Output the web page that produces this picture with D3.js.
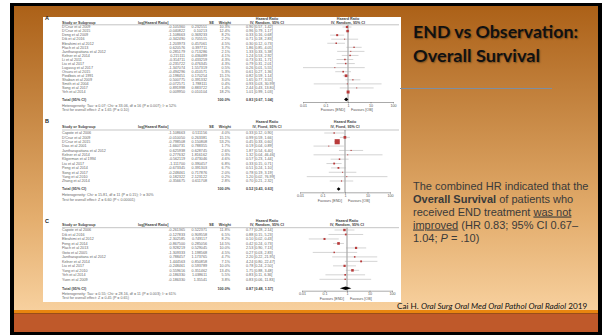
<!DOCTYPE html>
<html>
<head>
<meta charset="utf-8">
<script src="https://cdn.jsdelivr.net/npm/d3@7"></script>
<style>
  html, body { margin: 0; padding: 0; background: #fff; }
  svg { display: block; }
</style>
</head>
<body>
<svg id="slide" width="606" height="335"></svg>
<script>
// ---- Panel A: END vs observation, overall survival (IV, random) ----
const studiesA = ["D'Cruz et al 2009", "D'Cruz et al 2015", "Deng et al 2009", "Dik et al 2016",
  "Ebrahimi et al 2012", "Flach et al 2013", "Jantharapattana et al 2012", "Kelner et al 2014",
  "Li et al 2011", "Liu et al 2017", "Lugassy et al 2017", "Otsuru et al 2015", "Piedbois et al 1991",
  "Shaban et al 2009", "Smith et al 2004", "Song et al 2017", "Yeh et al 2014"];
const logHrA = ["-0.105360", "-0.040822", "-1.108663", "-0.342490", "-1.203973", "0.620576", "0.285179",
  "0.215111", "-0.314711", "-0.235722", "-1.347074", "-0.494296", "-0.198451", "0.500775", "-0.072571",
  "0.891998", "0.009950"];
const seA = ["0.232551", "0.10213", "0.369233", "0.705515", "0.457061", "0.397711", "0.713286", "0.436489",
  "0.433259", "0.476345", "1.557319", "0.410571", "0.170254", "0.391332", "1.788111", "0.883722", "0.010104"];
const weightA = [10.3, 12.4, 8.2, 2.2, 4.5, 3.7, 2.1, 4.1, 4.3, 4.3, 0.5, 5.3, 15.1, 3.0, 0.4, 1.4, 18.2];
const hrA = [0.90, 0.96, 0.33, 0.71, 0.30, 1.86, 1.33, 1.24, 0.73, 0.79, 0.26, 0.61, 0.82, 1.65, 0.93, 2.44, 1.01];
const loA = [0.57, 0.79, 0.16, 0.18, 0.12, 0.85, 0.33, 0.53, 0.31, 0.31, 0.01, 0.27, 0.59, 0.77, 0.03, 0.43, 0.99];
const hiA = [1.42, 1.17, 0.68, 2.83, 0.73, 4.05, 5.38, 2.92, 1.71, 2.01, 5.55, 1.36, 1.14, 3.55, 30.99, 13.80, 1.03];
const totalA = [0.83, 0.67, 1.04];
const hetA = "Heterogeneity: Tau\u00b2 = 0.07; Chi\u00b2 = 33.06, df = 16 (P = 0.007); I\u00b2 = 52%";
const testA = "Test for overall effect: Z = 1.65 (P = 0.10)";

// ---- Panel B: fixed-effect pooling ----
const studiesB = ["Capote et al 2006", "D'Cruz et al 2009", "D'Cruz et al 2015", "Dias et al 2001",
  "Jantharapattana et al 2012", "Kelner et al 2014", "Kligerman et al 1994", "Liu et al 2017",
  "Peng et al 2014", "Song et al 2017", "Yang et al 2010", "Zhang et al 2014"];
const logHrB = ["-1.108663", "-0.010050", "-0.798508", "-1.660731", "0.625938", "0.277632", "-0.562119",
  "-1.111700", "-0.673345", "-0.248461", "0.182322", "-0.356675"];
const seB = ["0.511156", "0.263381", "0.150808", "0.788355", "0.628745", "1.816162", "0.473046", "0.390457",
  "0.391303", "0.717876", "2.123122", "0.611708"];
const weightB = [4.0, 15.1, 53.2, 1.7, 2.6, 0.3, 4.6, 6.8, 6.7, 2.0, 0.2, 2.8];
const hrB = [0.33, 0.99, 0.45, 0.19, 1.87, 1.32, 0.57, 0.33, 0.51, 0.78, 1.20, 0.70];
const loB = [0.12, 0.59, 0.33, 0.04, 0.54, 0.04, 0.23, 0.15, 0.24, 0.19, 0.02, 0.21];
const hiB = [0.90, 1.66, 0.60, 0.89, 6.40, 46.46, 1.44, 0.71, 1.10, 3.19, 76.99, 2.32];
const totalB = [0.52, 0.43, 0.63];
const hetB = "Heterogeneity: Chi\u00b2 = 15.81, df = 11 (P = 0.15); I\u00b2 = 30%";
const testB = "Test for overall effect: Z = 6.60 (P < 0.00001)";

// ---- Panel C: random-effects pooling ----
const studiesC = ["Capote et al 2006", "Dik et al 2016", "Ebrahimi et al 2012", "Feng et al 2014",
  "Flach et al 2013", "Goto et al 2005", "Jantharapattana et al 2012", "Kelner et al 2014",
  "Liu et al 2017", "Yang et al 2010", "Yeh et al 2014", "Yuen et al 2009"];
const logHrC = ["-0.261365", "-0.127833", "-2.302585", "-0.867500", "0.928219", "-1.309333", "0.788457",
  "1.444563", "-0.248461", "0.559616", "-0.186330", "-0.186330"];
const seC = ["0.522371", "0.909558", "0.749117", "0.285056", "0.529045", "1.198568", "1.173765", "0.850858",
  "0.593789", "0.351462", "1.038611", "1.35541"];
const weightC = [11.8, 6.5, 8.2, 14.5, 10.0, 4.5, 4.7, 7.1, 10.0, 13.4, 5.5, 3.8];
const hrC = [0.77, 0.88, 0.10, 0.42, 2.53, 0.27, 2.20, 4.24, 0.78, 1.75, 0.83, 0.83];
const loC = [0.28, 0.15, 0.02, 0.24, 0.90, 0.03, 0.22, 0.80, 0.24, 0.88, 0.11, 0.06];
const hiC = [2.14, 5.23, 0.43, 0.73, 7.13, 2.83, 21.95, 22.47, 2.50, 3.48, 6.36, 11.83];
const totalC = [0.87, 0.48, 1.57];
const hetC = "Heterogeneity: Tau\u00b2 = 0.55; Chi\u00b2 = 28.16, df = 11 (P = 0.003); I\u00b2 = 61%";
const testC = "Test for overall effect: Z = 0.45 (P = 0.65)";

// ---- shared axis ----
const axisTicks = [0.01, 0.1, 1, 10, 100];
const tickLabels = ["0.01", "0.1", "1", "10", "100"];
const favourLabels = ["Favours [END]", "Favours [OB]"];

const svg = d3.select("#slide");
const sans = "'Liberation Sans', Arial, Helvetica, sans-serif";

// ---- slide frame and background ----
const defs = svg.append("defs");
const bg = defs.append("linearGradient").attr("id", "bgGrad")
  .attr("gradientUnits", "userSpaceOnUse").attr("x1", 0).attr("y1", 6).attr("x2", 0).attr("y2", 310);
bg.append("stop").attr("offset", 0).attr("stop-color", "#ac6118");
bg.append("stop").attr("offset", 0.33).attr("stop-color", "#c58541");
bg.append("stop").attr("offset", 0.7).attr("stop-color", "#e4ae6e");
bg.append("stop").attr("offset", 1).attr("stop-color", "#f7d09e");

svg.append("rect").attr("x", 10).attr("y", 3).attr("width", 592).attr("height", 332).attr("fill", "#000");
svg.append("rect").attr("x", 14).attr("y", 6).attr("width", 584).attr("height", 304).attr("fill", "url(#bgGrad)");
svg.append("rect").attr("x", 14).attr("y", 310).attr("width", 584).attr("height", 3.5).attr("fill", "#e8850f");
svg.append("rect").attr("x", 14).attr("y", 313.5).attr("width", 584).attr("height", 18.5).attr("fill", "#bf592a");

// forest plot sheet
svg.append("rect").attr("x", 43).attr("y", 17).attr("width", 358).attr("height", 285).attr("fill", "#fff");

// ---- forest plot panels ----
const col = { name: 62, log: 185, se: 207, weight: 230, ci: 246, ciHead: 267 };
const fs = 3.7;

function forestPanel(cfg, d) {
  const g = svg.append("g").attr("font-family", sans);
  const n = d.studies.length;
  const x = d3.scaleLog().domain([0.01, 100]).range([cfg.cx - 45, cfg.cx + 45]);
  const y = d3.scaleLinear().domain([0, n - 1]).range([cfg.row0, cfg.row1]);
  const fmt = v => v.toFixed(2);
  const ciText = (h, l, u) => `${fmt(h)} [${fmt(l)}, ${fmt(u)}]`;

  g.append("text").attr("x", 45).attr("y", cfg.letterY).attr("dy", "0.35em")
    .attr("font-size", 5.5).attr("font-weight", "bold").attr("fill", "#222").text(cfg.letter);

  // column headers
  const head = g.append("g").attr("font-size", fs).attr("font-weight", "bold").attr("fill", "#444");
  head.append("text").attr("x", col.name).attr("y", cfg.hdr2).attr("dy", "0.35em").text("Study or Subgroup");
  head.append("text").attr("x", 138).attr("y", cfg.hdr2).attr("dy", "0.35em").text("log[Hazard Ratio]");
  head.append("text").attr("x", col.se + 7).attr("y", cfg.hdr2).attr("dy", "0.35em").attr("text-anchor", "end").text("SE");
  head.append("text").attr("x", col.weight + 1).attr("y", cfg.hdr2).attr("dy", "0.35em").attr("text-anchor", "end").text("Weight");
  [col.ciHead, cfg.cx].forEach(cx => {
    head.append("text").attr("x", cx).attr("y", cfg.hdr1).attr("dy", "0.35em").attr("text-anchor", "middle").text("Hazard Ratio");
    head.append("text").attr("x", cx).attr("y", cfg.hdr2).attr("dy", "0.35em").attr("text-anchor", "middle").text(cfg.method);
  });
  g.append("line").attr("x1", col.name).attr("x2", 399).attr("y1", cfg.rule).attr("y2", cfg.rule)
    .attr("stroke", "#888").attr("stroke-width", 0.5);

  // study rows
  const rows = g.append("g").attr("font-size", fs).attr("fill", "#666");
  d.studies.forEach((s, i) => {
    const yy = y(i);
    rows.append("text").attr("x", col.name).attr("y", yy).attr("dy", "0.35em").text(s);
    rows.append("text").attr("x", col.log).attr("y", yy).attr("dy", "0.35em").attr("text-anchor", "end").text(d.logHr[i]);
    rows.append("text").attr("x", col.se).attr("y", yy).attr("dy", "0.35em").attr("text-anchor", "end").text(d.se[i]);
    rows.append("text").attr("x", col.weight).attr("y", yy).attr("dy", "0.35em").attr("text-anchor", "end").text(d.weight[i].toFixed(1) + "%");
    rows.append("text").attr("x", col.ci).attr("y", yy).attr("dy", "0.35em").text(ciText(d.hr[i], d.lo[i], d.hi[i]));
  });

  // total and footnotes
  const tot = g.append("g").attr("font-size", fs).attr("fill", "#444");
  tot.append("text").attr("x", col.name).attr("y", cfg.total).attr("dy", "0.35em").attr("font-weight", "bold").text("Total (95% CI)");
  tot.append("text").attr("x", col.weight).attr("y", cfg.total).attr("dy", "0.35em").attr("text-anchor", "end").attr("font-weight", "bold").text("100.0%");
  tot.append("text").attr("x", col.ci).attr("y", cfg.total).attr("dy", "0.35em").attr("font-weight", "bold").text(ciText(d.total[0], d.total[1], d.total[2]));
  tot.append("text").attr("x", col.name).attr("y", cfg.het).attr("dy", "0.35em").attr("fill", "#666").text(d.het);
  tot.append("text").attr("x", col.name).attr("y", cfg.test).attr("dy", "0.35em").attr("fill", "#666").text(d.test);

  // plot: line of no effect
  g.append("line").attr("x1", x(1)).attr("x2", x(1)).attr("y1", cfg.rule).attr("y2", cfg.axis)
    .attr("stroke", "#333").attr("stroke-width", 0.5);

  // confidence intervals and weighted squares
  const marks = g.append("g");
  d.studies.forEach((s, i) => {
    const yy = y(i);
    const lo = Math.max(d.lo[i], 0.01), hi = Math.min(d.hi[i], 100);
    marks.append("line").attr("x1", x(lo)).attr("x2", x(hi)).attr("y1", yy).attr("y2", yy)
      .attr("stroke", "#a8a8a8").attr("stroke-width", 0.5);
    const side = Math.max(1, Math.sqrt(d.weight[i]) * 0.7);
    marks.append("rect").attr("x", x(d.hr[i]) - side / 2).attr("y", yy - side / 2)
      .attr("width", side).attr("height", side).attr("fill", "#b83a3a");
  });

  // pooled diamond
  const [ph, pl, pu] = d.total;
  const hh = 1.8;
  marks.append("path")
    .attr("d", `M${x(pl)},${cfg.total} L${x(ph)},${cfg.total - hh} L${x(pu)},${cfg.total} L${x(ph)},${cfg.total + hh} Z`)
    .attr("fill", "#000");

  // log axis
  const ax = g.append("g").attr("transform", `translate(0,${cfg.axis})`)
    .call(d3.axisBottom(x).tickValues(axisTicks).tickFormat((v, i) => tickLabels[i])
      .tickSize(1.4).tickPadding(0.6).tickSizeOuter(0));
  ax.select(".domain").attr("stroke", "#555").attr("stroke-width", 0.5);
  ax.selectAll(".tick line").attr("stroke", "#555").attr("stroke-width", 0.5);
  ax.selectAll(".tick text").attr("font-size", fs).attr("font-family", sans).attr("fill", "#555");
  ax.attr("font-size", fs);

  g.append("text").attr("x", x(1) - 3).attr("y", cfg.fav).attr("dy", "0.35em").attr("text-anchor", "end")
    .attr("font-size", fs).attr("fill", "#555").text(favourLabels[0]);
  g.append("text").attr("x", x(1) + 3).attr("y", cfg.fav).attr("dy", "0.35em")
    .attr("font-size", fs).attr("fill", "#555").text(favourLabels[1]);
}

forestPanel(
  { letter: "A", letterY: 18.5, hdr1: 18.5, hdr2: 22.4, rule: 24.8, row0: 27, row1: 92, total: 99.4,
    axis: 102, het: 105.8, test: 110, fav: 110, cx: 348, method: "IV, Random, 95% CI" },
  { studies: studiesA, logHr: logHrA, se: seA, weight: weightA, hr: hrA, lo: loA, hi: hiA,
    total: totalA, het: hetA, test: testA });

forestPanel(
  { letter: "B", letterY: 120.7, hdr1: 122, hdr2: 126.7, rule: 130, row0: 133, row1: 181, total: 189,
    axis: 192.3, het: 195, test: 199.5, fav: 200.7, cx: 345, method: "IV, Fixed, 95% CI" },
  { studies: studiesB, logHr: logHrB, se: seB, weight: weightB, hr: hrB, lo: loB, hi: hiB,
    total: totalB, het: hetB, test: testB });

forestPanel(
  { letter: "C", letterY: 220.7, hdr1: 220.9, hdr2: 225, rule: 227.7, row0: 230, row1: 279.3, total: 288.3,
    axis: 290.7, het: 294, test: 298, fav: 298.7, cx: 347, method: "IV, Random, 95% CI" },
  { studies: studiesC, logHr: logHrC, se: seC, weight: weightC, hr: hrC, lo: loC, hi: hiC,
    total: totalC, het: hetC, test: testC });

// ---- slide title ----
const title = svg.append("g").attr("font-family", "Lato, 'Open Sans', sans-serif")
  .attr("font-weight", "bold").attr("font-size", 17).attr("fill", "#111")
  .style("text-shadow", "1px 1px 1.5px rgba(0,0,0,0.35)");
title.append("text").attr("x", 413).attr("y", 37.5)
  .attr("textLength", 165).attr("lengthAdjust", "spacingAndGlyphs").text("END vs Observation:");
title.append("text").attr("x", 413).attr("y", 61.5)
  .attr("textLength", 127).attr("lengthAdjust", "spacingAndGlyphs").text("Overall Survival");
svg.append("line").attr("x1", 400).attr("x2", 552).attr("y1", 88.5).attr("y2", 88.5)
  .attr("stroke", "#7e8ea2").attr("stroke-width", 1);

// ---- summary text ----
const body = svg.append("text").attr("font-family", sans).attr("font-size", 11).attr("fill", "#3a3a3a");
const lineY = [189.5, 202.5, 215.5, 228.5, 241.5];
body.append("tspan").attr("x", 413).attr("y", lineY[0]).text("The combined HR indicated that the");
body.append("tspan").attr("x", 413).attr("y", lineY[1]).attr("font-weight", "bold").text("Overall Survival");
body.append("tspan").text(" of patients who");
body.append("tspan").attr("x", 413).attr("y", lineY[2]).text("received END treatment ");
body.append("tspan").attr("text-decoration", "underline").text("was not");
body.append("tspan").attr("x", 413).attr("y", lineY[3]).attr("text-decoration", "underline").text("improved");
body.append("tspan").text(" (HR 0.83; 95% CI 0.67\u2013");
body.append("tspan").attr("x", 413).attr("y", lineY[4]).text("1.04; ");
body.append("tspan").attr("font-style", "italic").text("P");
body.append("tspan").text(" = .10)");

// ---- citation ----
const cite = svg.append("text").attr("x", 397).attr("y", 308.5)
  .attr("font-family", "Lato, 'Open Sans', sans-serif").attr("font-size", 8.2).attr("fill", "#111");
cite.append("tspan").text("Cai H. ");
cite.append("tspan").attr("font-style", "italic").text("Oral Surg Oral Med Oral Pathol Oral Radiol");
cite.append("tspan").text(" 2019");
</script>
</body>
</html>
